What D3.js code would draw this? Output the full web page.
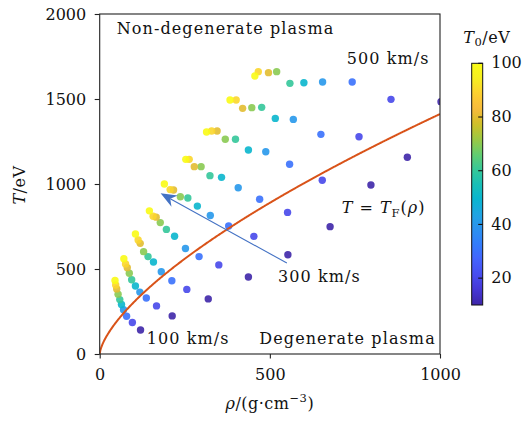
<!DOCTYPE html>
<html>
<head>
<meta charset="utf-8">
<script src="https://cdn.jsdelivr.net/npm/d3@7"></script>
<style>
  body { margin: 0; background: #fff; }
  svg text { font-family: "DejaVu Serif", serif; fill: #111; }
</style>
</head>
<body>
<div id="chart"></div>
<script>
// impact velocity of each arc (km/s) and initial temperature of each point (eV)
var velocities = [100, 150, 200, 250, 300, 350, 400, 450, 500];
var T0s = [100, 90, 80, 70, 60, 50, 40, 30, 20, 10];

// density (g/cm^3) of every point, one row per velocity, same order as T0s
var rhoRows = [
  [45, 47, 50, 54, 59, 64, 70, 79, 96, 120],
  [71, 76, 81, 87, 94, 105, 118, 137, 167, 213],
  [105, 113, 119, 129, 142, 158, 181, 212, 256, 319],
  [146, 157, 166, 178, 196, 220, 252, 292, 350, 437],
  [190, 207, 217, 237, 259, 287, 325, 379, 453, 553],
  [253, 263, 278, 298, 324, 358, 407, 470, 552, 677],
  [314, 329, 345, 369, 399, 437, 488, 558, 654, 797],
  [383, 401, 420, 447, 476, 516, 569, 650, 762, 904],
  [456, 466, 496, 520, 559, 600, 655, 742, 856, 1003]
];
// temperature (eV) of every point
var tempRows = [
  [433, 406, 383, 352, 320, 291, 260, 222, 185, 141],
  [560, 530, 508, 475, 437, 400, 364, 329, 283, 224],
  [706, 671, 651, 602, 573, 541, 484, 431, 380, 324],
  [842, 810, 805, 773, 733, 693, 621, 573, 524, 453],
  [1000, 967, 965, 925, 918, 870, 815, 753, 692, 584],
  [1145, 1145, 1102, 1102, 1049, 1039, 978, 910, 833, 749],
  [1306, 1312, 1312, 1263, 1263, 1200, 1190, 1116, 1022, 994],
  [1494, 1494, 1445, 1449, 1451, 1386, 1380, 1292, 1278, 1157],
  [1635, 1661, 1655, 1661, 1592, 1596, 1600, 1600, 1498, 1484]
];

var rhoTicks = [0, 500, 1000];
var tempTicks = [0, 500, 1000, 1500, 2000];
var cbTicks = [20, 40, 60, 80, 100];

// parula, every 4th entry of the 64-step table
var parula = [
  [0.2422, 0.1504, 0.6603], [0.2706, 0.2147, 0.8364], [0.2813, 0.3006, 0.9414],
  [0.2699, 0.3892, 0.9906], [0.1963, 0.4847, 0.9892], [0.1687, 0.5703, 0.9359],
  [0.1248, 0.6459, 0.8883], [0.0297, 0.7082, 0.8163], [0.0964, 0.7500, 0.7120],
  [0.2161, 0.7843, 0.5923], [0.3909, 0.8029, 0.4354], [0.6174, 0.7876, 0.2612],
  [0.8203, 0.7498, 0.1535], [0.9728, 0.7298, 0.2394], [0.9892, 0.8136, 0.1885],
  [0.9628, 0.9373, 0.1265], [0.9769, 0.9839, 0.0805]
].map(function(c) { return d3.rgb(c[0] * 255, c[1] * 255, c[2] * 255).formatHex(); });
var parulaInterp = d3.piecewise(d3.interpolateRgb, parula);

// Fermi temperature of DT (mean ion mass 2.5 u), T_F in eV for rho in g/cm^3
function fermiT(rho) {
  var ne = rho / (2.5 * 1.66054e-24);
  return 3.646e-15 * Math.pow(ne, 2 / 3);
}

var width = 522, height = 421;
var pad = {l: 99.7, r: 440, t: 14, b: 354};
var fs = 16;

var svg = d3.select("#chart").append("svg")
    .attr("width", width)
    .attr("height", height);

var x = d3.scaleLinear().domain([0, 1000]).range([pad.l, pad.r]);
var y = d3.scaleLinear().domain([0, 2000]).range([pad.b, pad.t]);
var cb = d3.scaleLinear().domain([10, 100]).range([305, 63.3]);
var colour = function(v) { return parulaInterp((v - 10) / 90); };

svg.append("clipPath").attr("id", "clip")
  .append("rect")
    .attr("x", pad.l).attr("y", pad.t)
    .attr("width", pad.r - pad.l).attr("height", pad.b - pad.t);

// points, drawn low T0 first so the yellow ones sit on top
var points = [];
velocities.forEach(function(v, i) {
  T0s.forEach(function(t0, j) {
    points.push({v: v, t0: t0, rho: rhoRows[i][j], T: tempRows[i][j]});
  });
});
points.sort(function(a, b) { return a.t0 - b.t0; });

var plotArea = svg.append("g").attr("clip-path", "url(#clip)");

plotArea.selectAll(".dot")
  .data(points)
  .enter()
  .append("circle")
    .attr("class", "dot")
    .attr("cx", function(d) { return x(d.rho); })
    .attr("cy", function(d) { return y(d.T); })
    .attr("r", 3.7)
    .attr("fill", function(d) { return colour(d.t0); })
    .attr("opacity", 0.9);

// T = T_F(rho) curve
var rhoLine = d3.range(0, 1000.5, 2);
plotArea.append("path")
  .datum(rhoLine)
  .attr("fill", "none")
  .attr("stroke", "#d95319")
  .attr("stroke-width", 2)
  .attr("d", d3.line().x(function(d) { return x(d); }).y(function(d) { return y(fermiT(d)); }));

// arrow from the 300 km/s label up the arc direction
var tail = [x(550), y(535)], tip = [x(179), y(945)];
var ang = Math.atan2(tip[1] - tail[1], tip[0] - tail[0]);
var hl = 16, hw = 6.5, notch = 11;
function pt(dist, off) {
  return [tip[0] - dist * Math.cos(ang) - off * Math.sin(ang),
          tip[1] - dist * Math.sin(ang) + off * Math.cos(ang)];
}
svg.append("line")
  .attr("x1", tail[0]).attr("y1", tail[1])
  .attr("x2", pt(notch, 0)[0]).attr("y2", pt(notch, 0)[1])
  .attr("stroke", "#4472c4")
  .attr("stroke-width", 1.1);
svg.append("path")
  .attr("d", "M" + [tip, pt(hl, hw), pt(notch, 0), pt(hl, -hw)].join("L") + "Z")
  .attr("fill", "#4472c4");

// axes
var xAxis = d3.axisBottom(x).tickValues(rhoTicks).tickSize(4.5).tickPadding(10).tickFormat(d3.format("d"));
var yAxis = d3.axisLeft(y).tickValues(tempTicks).tickSize(5).tickPadding(8.5).tickFormat(d3.format("d"));

var gx = svg.append("g").attr("transform", "translate(0," + pad.b + ")").call(xAxis);
var gy = svg.append("g").attr("transform", "translate(" + pad.l + ",0)").call(yAxis);
[gx, gy].forEach(function(g) {
  g.select(".domain").remove();
  g.selectAll("line").attr("stroke", "#222").attr("stroke-width", 1.1);
  g.selectAll("text").attr("font-size", fs).attr("font-family", "DejaVu Serif").attr("fill", "#111");
});

svg.append("rect")
  .attr("x", pad.l).attr("y", pad.t)
  .attr("width", pad.r - pad.l).attr("height", pad.b - pad.t)
  .attr("fill", "none")
  .attr("stroke", "#222")
  .attr("stroke-width", 1.1);

// annotations
function label(txt, rho, T) {
  return svg.append("text")
    .attr("x", x(rho)).attr("y", y(T))
    .attr("font-size", fs)
    .style("letter-spacing", "1.1px")
    .text(txt);
}
label("Non-degenerate plasma", 50, 1882);
label("500 km/s", 726, 1706);
label("300 km/s", 524, 426);
label("100 km/s", 138, 59);
label("Degenerate plasma", 469, 59);

var tf = svg.append("text")
  .attr("x", x(711)).attr("y", y(828))
  .attr("font-size", fs)
  .style("letter-spacing", "1px");
tf.append("tspan").attr("font-style", "italic").text("T");
tf.append("tspan").text(" = ");
tf.append("tspan").attr("font-style", "italic").text("T");
tf.append("tspan").attr("font-size", fs * 0.72).attr("dy", 3.5).text("F");
tf.append("tspan").attr("dy", -3.5).text("(");
tf.append("tspan").attr("font-style", "italic").text("ρ");
tf.append("tspan").text(")");

// axis titles
var xt = svg.append("text")
  .attr("x", (pad.l + pad.r) / 2).attr("y", 409)
  .attr("text-anchor", "middle")
  .attr("font-size", fs)
  .style("letter-spacing", "0.5px");
xt.append("tspan").attr("font-style", "italic").text("ρ");
xt.append("tspan").text("/(g·cm");
xt.append("tspan").attr("font-size", fs * 0.72).attr("dy", -7).text("−3");
xt.append("tspan").attr("dy", 7).text(")");

var yt = svg.append("text")
  .attr("transform", "translate(24.5," + ((pad.t + pad.b) / 2 + 1) + ") rotate(-90)")
  .attr("text-anchor", "middle")
  .attr("font-size", fs)
  .style("letter-spacing", "0.5px");
yt.append("tspan").attr("font-style", "italic").text("T");
yt.append("tspan").text("/eV");

// colour bar
var cbX = 471.7, cbW = 11;
var grad = svg.append("defs").append("linearGradient")
  .attr("id", "cbgrad")
  .attr("x1", 0).attr("y1", 1).attr("x2", 0).attr("y2", 0);
grad.selectAll("stop")
  .data(d3.range(0, 1.0001, 0.02))
  .enter()
  .append("stop")
    .attr("offset", function(d) { return d; })
    .attr("stop-color", function(d) { return parulaInterp(d); });

svg.append("rect")
  .attr("x", cbX).attr("y", cb(100))
  .attr("width", cbW).attr("height", cb(10) - cb(100))
  .attr("fill", "url(#cbgrad)")
  .attr("stroke", "#111")
  .attr("stroke-width", 1);

var cbAxis = svg.append("g").attr("transform", "translate(" + (cbX + cbW) + ",0)");
cbAxis.selectAll("line")
  .data(cbTicks)
  .enter()
  .append("line")
    .attr("x1", -4.5).attr("x2", 0)
    .attr("y1", function(d) { return cb(d); })
    .attr("y2", function(d) { return cb(d); })
    .attr("stroke", "#111")
    .attr("stroke-width", 1.1);
cbAxis.selectAll("text")
  .data(cbTicks)
  .enter()
  .append("text")
    .attr("x", 8.5)
    .attr("y", function(d) { return cb(d); })
    .attr("dy", "0.32em")
    .attr("font-size", fs)
    .text(function(d) { return d; });

var ct = svg.append("text")
  .attr("x", 463.3).attr("y", 42.7)
  .attr("font-size", fs)
  .style("letter-spacing", "0.5px");
ct.append("tspan").attr("font-style", "italic").text("T");
ct.append("tspan").attr("font-size", fs * 0.72).attr("dy", 3.5).text("0");
ct.append("tspan").attr("dy", -3.5).text("/eV");
</script>
</body>
</html>
